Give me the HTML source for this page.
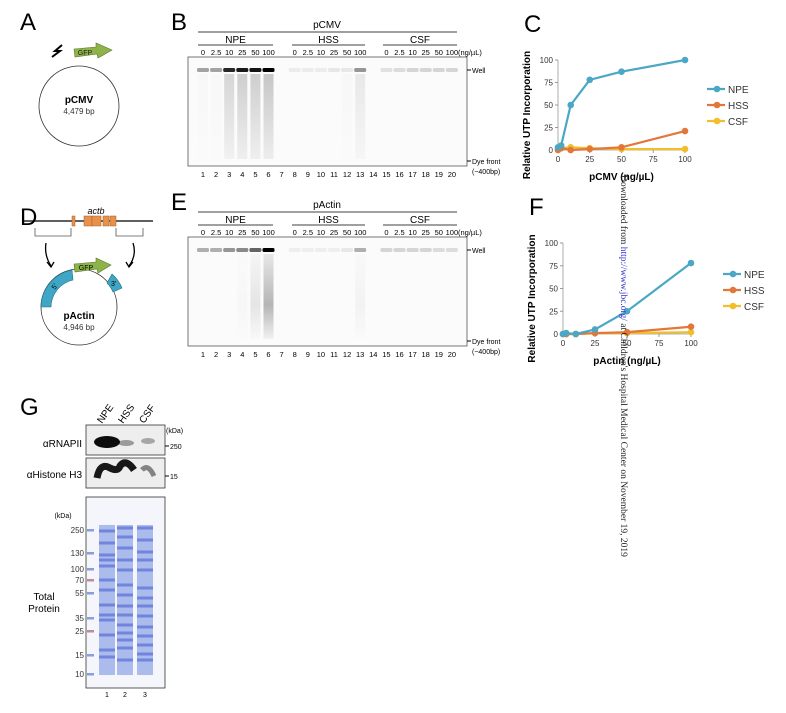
<!DOCTYPE html>
<html><head><meta charset="utf-8"><style>
body{margin:0;background:#fff;}
svg{display:block;font-family:"Liberation Sans",Arial,sans-serif;}
</style></head><body>
<svg id="fig" width="786" height="713" viewBox="0 0 786 713" xmlns="http://www.w3.org/2000/svg">
<defs>
<linearGradient id="smear" x1="0" y1="0" x2="0" y2="1"><stop offset="0" stop-color="#000" stop-opacity="0.3"/><stop offset="1" stop-color="#000" stop-opacity="0.08"/></linearGradient>
<linearGradient id="smear2" x1="0" y1="0" x2="0" y2="1"><stop offset="0" stop-color="#000" stop-opacity="0.1"/><stop offset="0.6" stop-color="#000" stop-opacity="0.35"/><stop offset="1" stop-color="#000" stop-opacity="0.05"/></linearGradient>
</defs>

<g>
<text x="20" y="30" font-size="24">A</text>
<circle cx="79" cy="106" r="40" fill="none" stroke="#333" stroke-width="0.8"/>
<path d="M52,57 L60,51 L55,51 L62,45" fill="none" stroke="#000" stroke-width="2"/>
<path d="M74,49 L96,47 L96,43 L112,50 L98,58 L97,54 L75,57 Z" fill="#8db34a" stroke="#5a7a2a" stroke-width="0.6"/>
<text x="85" y="55" font-size="7" fill="#222" text-anchor="middle">GFP</text>
<text x="79" y="103" font-size="10" font-weight="bold" text-anchor="middle">pCMV</text>
<text x="79" y="114" font-size="8" text-anchor="middle" fill="#333">4,479 bp</text>
</g>

<g>
<text x="20" y="225" font-size="24">D</text>
<text x="96" y="214" font-size="9" font-style="italic" text-anchor="middle">actb</text>
<line x1="22" y1="221" x2="153" y2="221" stroke="#000" stroke-width="1.2"/>
<rect x="72" y="216" width="3" height="10" fill="#e8914a" stroke="#a0602a" stroke-width="0.5"/>
<rect x="84" y="216" width="8" height="10" fill="#e8914a" stroke="#a0602a" stroke-width="0.5"/>
<rect x="92" y="216" width="9" height="10" fill="#e8914a" stroke="#a0602a" stroke-width="0.5"/>
<rect x="103" y="216" width="6" height="10" fill="#e8914a" stroke="#a0602a" stroke-width="0.5"/>
<rect x="110" y="216" width="6" height="10" fill="#e8914a" stroke="#a0602a" stroke-width="0.5"/>
<path d="M35,228 V236 H71 V228 M116,228 V236 H143 V228" fill="none" stroke="#555" stroke-width="0.8"/>
<path d="M46,243 Q44,255 51,266" fill="none" stroke="#000" stroke-width="1.3"/>
<path d="M47,262 L51,267 L54,262" fill="none" stroke="#000" stroke-width="1.3"/>
<path d="M133,243 Q137,255 129,266" fill="none" stroke="#000" stroke-width="1.3"/>
<path d="M126,262 L129,267 L133,262" fill="none" stroke="#000" stroke-width="1.3"/>
<circle cx="79" cy="307" r="38" fill="none" stroke="#333" stroke-width="0.8"/>
<path d="M41,307 A38,38 0 0 1 72,270 L73,280 A28,28 0 0 0 51,307 Z" fill="#3fa7c5" stroke="#1f6f85" stroke-width="0.6"/>
<text x="55" y="290" font-size="7" transform="rotate(-55 55 290)">5'</text>
<path d="M112,274 A38,38 0 0 1 122,288 L113,292 A28,28 0 0 0 107,283 Z" fill="#3fa7c5" stroke="#1f6f85" stroke-width="0.6"/>
<text x="111" y="286" font-size="7">3'</text>
<path d="M74,264 L96,262 L96,258 L111,265 L98,273 L97,269 L75,272 Z" fill="#8db34a" stroke="#5a7a2a" stroke-width="0.6"/>
<text x="86" y="270" font-size="7" text-anchor="middle">GFP</text>
<text x="79" y="319" font-size="10" font-weight="bold" text-anchor="middle">pActin</text>
<text x="79" y="330" font-size="8" text-anchor="middle" fill="#333">4,946 bp</text>
</g>

<g id="gels"></g>
<g id="charts"></g>
<g id="panelG"></g>

<text x="0" y="0" font-family="Liberation Serif, serif" font-size="9.5" fill="#222" transform="translate(621,175) rotate(90)">Downloaded from <tspan fill="#3333cc">http://www.jbc.org/</tspan> at Children's Hospital Medical Center on November 19, 2019</text>
</svg>
<script>
const NS='http://www.w3.org/2000/svg';
function mk(parent,tag,attrs,text){const e=document.createElementNS(NS,tag);for(const k in attrs)e.setAttribute(k,attrs[k]);if(text!==undefined)e.textContent=text;parent.appendChild(e);return e;}

const concLabels=['0','2.5','10','25','50','100'];
const laneNumbers=[1,2,3,4,5,6,7,8,9,10,11,12,13,14,15,16,17,18,19,20];
const wellB=[0.35,0.35,0.85,0.9,0.92,1,0,0.06,0.06,0.06,0.08,0.08,0.4,0,0.1,0.12,0.15,0.15,0.15,0.15];
const smearB=[0.05,0.05,0.5,0.6,0.6,0.7,0,0,0,0,0,0.05,0.25,0,0,0,0,0,0,0];
const wellE=[0.3,0.3,0.4,0.45,0.6,1,0,0.05,0.05,0.05,0.05,0.08,0.3,0,0.15,0.15,0.15,0.15,0.12,0.12];
const smearE=[0,0,0,0.05,0.25,0.8,0,0,0,0,0,0,0.1,0,0,0,0,0,0,0];
const groupNames=['NPE','HSS','CSF'];
const gels=document.getElementById('gels');
function gel(dy,letter,title,well,smear,nm){
  const g=mk(gels,'g',{});
  
  
  mk(g,'text',{x:171,y:30+dy,'font-size':24},letter);
  mk(g,'text',{x:327,y:28+dy,'font-size':10,'text-anchor':'middle'},title);
  mk(g,'line',{x1:198,y1:32+dy,x2:457,y2:32+dy,stroke:'#000','stroke-width':0.8});
  const gx=[198,292,383],gw=[75,73,74];
  groupNames.forEach((n,i)=>{
    mk(g,'text',{x:gx[i]+gw[i]/2,y:43+dy,'font-size':10,'text-anchor':'middle'},n);
    mk(g,'line',{x1:gx[i],y1:45+dy,x2:gx[i]+gw[i],y2:45+dy,stroke:'#000','stroke-width':0.8});
    concLabels.forEach((c,j)=>{mk(g,'text',{x:203+(i*7+j)*13.1,y:55+dy,'font-size':7.5,'text-anchor':'middle'},c);});
  });
  mk(g,'text',{x:458,y:55+dy,'font-size':7.5},'(ng/µL)');
  mk(g,'rect',{x:188,y:57+dy,width:279,height:109,fill:'#fbfbfb',stroke:'#555','stroke-width':0.8});
  laneNumbers.forEach((n,i)=>{
    const x=203+i*13.1;
    if(smear[i]>0)mk(g,'rect',{x:x-5,y:74+dy,width:10,height:85,fill:'url(#smear'+(nm==='gel-e'?'2':'')+')',opacity:smear[i]});
    if(well[i]>0){const b=mk(g,'rect',{x:x-6,y:68+dy,width:12,height:4,rx:1.5,fill:'#000',opacity:well[i]});}
    mk(g,'text',{x:x,y:177+dy,'font-size':7.5,'text-anchor':'middle'},String(n));
  });
  mk(g,'line',{x1:467,y1:70+dy,x2:471,y2:70+dy,stroke:'#000'});
  mk(g,'text',{x:472,y:73+dy,'font-size':7},'Well');
  mk(g,'line',{x1:467,y1:161+dy,x2:471,y2:161+dy,stroke:'#000'});
  mk(g,'text',{x:472,y:164+dy,'font-size':7},'Dye front');
  mk(g,'text',{x:472,y:174+dy,'font-size':7},'(~400bp)');
}
gel(0,'B','pCMV',wellB,smearB,'gel-b');
gel(180,'E','pActin',wellE,smearE,'gel-e');

const xConc=[0,2.5,10,25,50,100];
const yTicks=[0,25,50,75,100];
const xTicks=[0,25,50,75,100];
const seriesNames=['NPE','HSS','CSF'];
const seriesColors=['#4aa8c4','#e2773a','#f2be2c'];
const cNPE=[3,5,50,78,87,100];
const cHSS=[0,2,0,1,3,21];
const cCSF=[1,2,3,2,1,1];
const fNPE=[0,1,0,5,25,78];
const fHSS=[0,0,0,1,2,8];
const fCSF=[0,0,0,1,1,2];
const charts=document.getElementById('charts');
function chart(letter,ox,x100,oy,y100,series,xTitle,legX,legY,nm){
  const g=mk(charts,'g',{});
  
  
  const sx=v=>ox+(x100-ox)*v/100, sy=v=>oy-(oy-y100)*v/100;
  mk(g,'text',{x:ox-34,y:y100-28,'font-size':24},letter);
  mk(g,'line',{x1:ox,y1:y100,x2:ox,y2:oy,stroke:'#999','stroke-width':0.8});
  mk(g,'line',{x1:ox,y1:oy,x2:x100,y2:oy,stroke:'#999','stroke-width':0.8});
  yTicks.forEach(t=>{mk(g,'line',{x1:ox-3,y1:sy(t),x2:ox,y2:sy(t),stroke:'#999'});mk(g,'text',{x:ox-5,y:sy(t)+3,'font-size':8,'text-anchor':'end',fill:'#333'},String(t));});
  xTicks.forEach(t=>{mk(g,'line',{x1:sx(t),y1:oy,x2:sx(t),y2:oy+3,stroke:'#999'});mk(g,'text',{x:sx(t),y:oy+12,'font-size':8,'text-anchor':'middle',fill:'#333'},String(t));});
  mk(g,'text',{x:0,y:0,'font-size':10,'font-weight':'bold','text-anchor':'middle',transform:`translate(${ox-28},${(oy+y100)/2+10}) rotate(-90)`},'Relative UTP Incorporation');
  mk(g,'text',{x:(ox+x100)/2,y:oy+30,'font-size':10,'font-weight':'bold','text-anchor':'middle'},xTitle);
  for(let s=2;s>=0;s--){
    const vals=series[s];
    const pts=xConc.map((c,i)=>sx(c)+','+sy(vals[i])).join(' ');
    const l=mk(g,'polyline',{points:pts,fill:'none',stroke:seriesColors[s],'stroke-width':2.2});
    
    
    xConc.forEach((c,i)=>{const p=mk(g,'circle',{cx:sx(c),cy:sy(vals[i]),r:3.3,fill:seriesColors[s]});
      
      });
  }
  seriesNames.forEach((n,i)=>{
    const y=legY+i*16;
    const lg=mk(g,'g',{});
    
    
    mk(lg,'line',{x1:legX-10,y1:y,x2:legX+8,y2:y,stroke:seriesColors[i],'stroke-width':2.2});
    mk(lg,'circle',{cx:legX,cy:y,r:3.3,fill:seriesColors[i]});
    mk(lg,'text',{x:legX+11,y:y+4,'font-size':10,fill:'#333'},n);
  });
}
chart('C',558,685,150,60,[cNPE,cHSS,cCSF],'pCMV (ng/µL)',717,89,'chart-c');
chart('F',563,691,334,243,[fNPE,fHSS,fCSF],'pActin (ng/µL)',733,274,'chart-f');

const G=document.getElementById('panelG');
const ladderLabels=['250','130','100','70','55','35','25','15','10'];
const ladderY=[530,553,569,580,593,618,631,655,674];
const lane1Bands=[531,543,555,560,566,580,590,605,615,620,635,650,657];
const lane2Bands=[528,537,548,560,570,585,595,606,615,625,633,640,648,660];
const lane3Bands=[528,540,552,560,570,588,598,606,616,627,636,645,654,660];
(function(){
  const g=G;
  mk(g,'text',{x:20,y:415,'font-size':24},'G');
  ['NPE','HSS','CSF'].forEach((n,i)=>{mk(g,'text',{x:0,y:0,'font-size':10,transform:`translate(${102+i*21},424) rotate(-55)`},n);});
  mk(g,'text',{x:166,y:433,'font-size':7},'(kDa)');
  mk(g,'rect',{x:86,y:425,width:79,height:30,fill:'#eee',stroke:'#333','stroke-width':0.8});
  mk(g,'ellipse',{cx:107,cy:442,rx:13,ry:6,fill:'#000',opacity:0.95});
  mk(g,'ellipse',{cx:126,cy:443,rx:8,ry:3,fill:'#000',opacity:0.35});
  mk(g,'ellipse',{cx:148,cy:441,rx:7,ry:3,fill:'#000',opacity:0.3});
  mk(g,'text',{x:82,y:447,'font-size':10,'text-anchor':'end'},'αRNAPII');
  mk(g,'line',{x1:165,y1:446,x2:169,y2:446,stroke:'#000'});
  mk(g,'text',{x:170,y:449,'font-size':7},'250');
  mk(g,'rect',{x:86,y:458,width:79,height:30,fill:'#eee',stroke:'#333','stroke-width':0.8});
  mk(g,'path',{d:'M97,478 Q100,462 110,468 Q118,472 120,466 Q126,458 134,470',fill:'none',stroke:'#000','stroke-width':7,opacity:0.9});
  mk(g,'path',{d:'M142,470 Q148,463 154,476',fill:'none',stroke:'#000','stroke-width':5,opacity:0.45});
  mk(g,'text',{x:82,y:478,'font-size':10,'text-anchor':'end'},'αHistone H3');
  mk(g,'line',{x1:165,y1:476,x2:169,y2:476,stroke:'#000'});
  mk(g,'text',{x:170,y:479,'font-size':7},'15');
  mk(g,'rect',{x:86,y:497,width:79,height:191,fill:'#f4f6fb',stroke:'#333','stroke-width':0.8});
  mk(g,'text',{x:63,y:518,'font-size':7,'text-anchor':'middle'},'(kDa)');
  ladderLabels.forEach((l,i)=>{
    mk(g,'text',{x:84,y:ladderY[i]+3,'font-size':8,'text-anchor':'end',fill:'#333'},l);
    mk(g,'rect',{x:87,y:ladderY[i]-1,width:7,height:2.5,fill:(l==='70'||l==='25')?'#b07080':'#6a8ad8',opacity:0.8});
  });
  [[107,lane1Bands],[125,lane2Bands],[145,lane3Bands]].forEach(([x,bands],li)=>{
    mk(g,'rect',{x:x-8,y:525,width:16,height:150,fill:'#6f8ae0',opacity:0.55});
    bands.forEach(y=>{mk(g,'rect',{x:x-8,y:y-1.5,width:16,height:3,fill:'#3550d0',opacity:0.5});});
    mk(g,'text',{x:x,y:697,'font-size':7,'text-anchor':'middle'},String(li+1));
  });
  mk(g,'text',{x:44,y:600,'font-size':10,'text-anchor':'middle'},'Total');
  mk(g,'text',{x:44,y:612,'font-size':10,'text-anchor':'middle'},'Protein');
})();
</script>
</body></html>
